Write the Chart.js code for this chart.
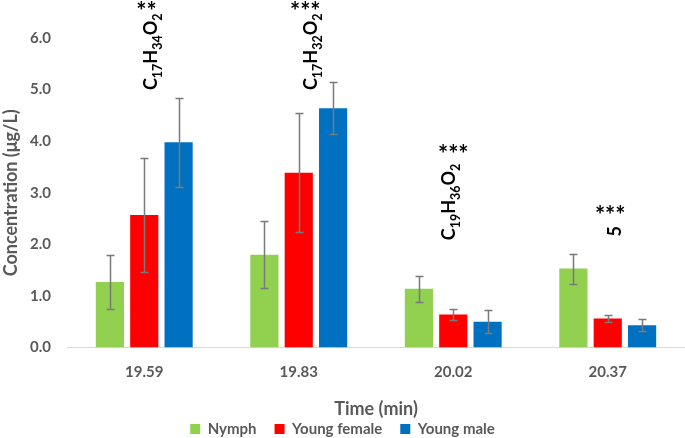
<!DOCTYPE html>
<html><head><meta charset="utf-8">
<script src="https://cdn.jsdelivr.net/npm/chart.js@4/dist/chart.umd.min.js"></script>
<style>html,body{margin:0;padding:0;background:#fff}</style>
</head><body>
<canvas id="c" width="685" height="438"></canvas>
<script>
const categories = ['19.59', '19.83', '20.02', '20.37'];
const seriesNames = ['Nymph', 'Young female', 'Young male'];
const nymph = [1.27, 1.80, 1.14, 1.53];
const youngFemale = [2.57, 3.39, 0.64, 0.56];
const youngMale = [3.98, 4.64, 0.50, 0.43];
const nymphErr = [0.52, 0.65, 0.25, 0.29];
const youngFemaleErr = [1.11, 1.16, 0.11, 0.07];
const youngMaleErr = [0.86, 0.50, 0.22, 0.115];
const compoundLabels = ['C_17H_34O_2', 'C_17H_32O_2', 'C_19H_36O_2', '5'];
const significance = ['**', '***', '***', '***'];
const yMin = 0, yMax = 6, yStep = 1;

// annotation anchors in data units (offset in categories, y value)
const labelAnchors = [
  {dx: 0.083, y: 4.99}, {dx: 0.118, y: 4.99}, {dx: 0.011, y: 2.08}, {dx: 0.086, y: 2.15}
];
const starAnchors = [
  {dx: 0.015, y: 6.61}, {dx: 0.042, y: 6.61}, {dx: 0.0, y: 3.82}, {dx: 0.016, y: 2.65}
];

Chart.defaults.font.family = 'Lato';
Chart.defaults.font.weight = 'bold';
Chart.defaults.color = '#595959';

const TEXT = '#595959';
const errColor = '#7a7a7a';

const errorBarPlugin = {
  id: 'errorBars',
  afterDatasetsDraw(chart) {
    const ctx = chart.ctx;
    const y = chart.scales.y;
    ctx.save();
    ctx.strokeStyle = errColor;
    ctx.lineWidth = 1.5;
    chart.data.datasets.forEach((ds, di) => {
      const meta = chart.getDatasetMeta(di);
      meta.data.forEach((bar, i) => {
        const v = ds.data[i], e = ds.errors[i];
        const yt = Math.round(y.getPixelForValue(v + e)) + 0.5;
        const yb = Math.round(y.getPixelForValue(v - e)) + 0.5;
        const x = Math.round(bar.x) + 0.5;
        ctx.beginPath();
        ctx.moveTo(x, yt); ctx.lineTo(x, yb);
        ctx.moveTo(x - 4, yt); ctx.lineTo(x + 4, yt);
        ctx.moveTo(x - 4, yb); ctx.lineTo(x + 4, yb);
        ctx.stroke();
      });
    });
    ctx.restore();
  }
};

function parseFormula(s) {
  const parts = [];
  const re = /_(\d+)|([^_]+)/g;
  let m;
  while ((m = re.exec(s)) !== null) {
    if (m[1] !== undefined) parts.push({t: m[1], sub: true});
    else parts.push({t: m[2], sub: false});
  }
  return parts;
}

const annotationPlugin = {
  id: 'compoundLabels',
  afterDraw(chart) {
    const ctx = chart.ctx;
    const xs = chart.scales.x, ys = chart.scales.y;
    const step = xs.getPixelForValue(1) - xs.getPixelForValue(0);
    ctx.save();
    ctx.fillStyle = '#000';
    compoundLabels.forEach((lab, i) => {
      const a = labelAnchors[i];
      const px = xs.getPixelForValue(i) + a.dx * step;
      const py = ys.getPixelForValue(a.y);
      ctx.save();
      ctx.translate(px, py);
      ctx.rotate(-Math.PI / 2);
      ctx.textBaseline = 'alphabetic';
      ctx.textAlign = 'left';
      let cx = 0;
      parseFormula(lab).forEach(p => {
        ctx.font = p.sub ? 'bold 12.5px Lato' : 'bold 18px Lato';
        ctx.fillText(p.t, cx, p.sub ? 5 : 0);
        cx += ctx.measureText(p.t).width;
      });
      ctx.restore();
    });
    significance.forEach((s, i) => {
      const a = starAnchors[i];
      const px = xs.getPixelForValue(i) + a.dx * step;
      const py = ys.getPixelForValue(a.y);
      ctx.font = 'bold 24px Lato';
      ctx.textAlign = 'center';
      ctx.textBaseline = 'alphabetic';
      ctx.fillText(s, px, py + 13);
    });
    ctx.restore();
  }
};

const LEGEND_HEIGHT = 34.5;
const legendFitPlugin = {
  id: 'legendFit',
  beforeLayout(chart) {
    const lg = chart.legend;
    if (lg && !lg._fitWrapped) {
      const orig = lg.fit;
      lg.fit = function () { orig.call(this); this.height = LEGEND_HEIGHT; };
      lg._fitWrapped = true;
    }
  }
};

const chart = new Chart(document.getElementById('c'), {
  type: 'bar',
  data: {
    labels: categories,
    datasets: [
      {label: seriesNames[0], data: nymph, errors: nymphErr, backgroundColor: '#92D050'},
      {label: seriesNames[1], data: youngFemale, errors: youngFemaleErr, backgroundColor: '#FF0000'},
      {label: seriesNames[2], data: youngMale, errors: youngMaleErr, backgroundColor: '#0070C0'}
    ]
  },
  options: {
    responsive: false,
    animation: false,
    devicePixelRatio: 1,
    layout: {padding: {top: 38, left: 0, right: 0, bottom: 0}},
    datasets: {bar: {barPercentage: 0.82, categoryPercentage: 0.667}},
    plugins: {
      legend: {
        position: 'bottom',
        labels: {
          boxWidth: 10, boxHeight: 10, padding: 18,
          color: TEXT, font: {size: 15, weight: 'bold', family: 'Lato'}
        }
      },
      tooltip: {enabled: false}
    },
    scales: {
      x: {
        grid: {display: false, drawTicks: false},
        border: {display: true, color: '#d9d9d9', width: 1},
        ticks: {color: TEXT, padding: 16, font: {size: 15, weight: 'bold'}},
        title: {display: true, text: 'Time (min)', color: TEXT, padding: {top: -16.3, bottom: -16.3}, font: {size: 18, weight: 'bold'}},
        afterFit(scale) { scale.height = 56; }
      },
      y: {
        min: yMin, max: yMax,
        grid: {display: false, drawTicks: false},
        border: {display: false},
        ticks: {stepSize: yStep, color: TEXT, padding: 16, font: {size: 15, weight: 'bold'}, callback: v => Number(v).toFixed(1)},
        title: {display: true, text: 'Concentration (μg/L)', color: TEXT, padding: {top: 0, bottom: 0}, font: {size: 18, weight: 'bold'}},
        afterFit(scale) { scale.width = 67; }
      }
    }
  },
  plugins: [legendFitPlugin, errorBarPlugin, annotationPlugin]
});
</script>
</body></html>
